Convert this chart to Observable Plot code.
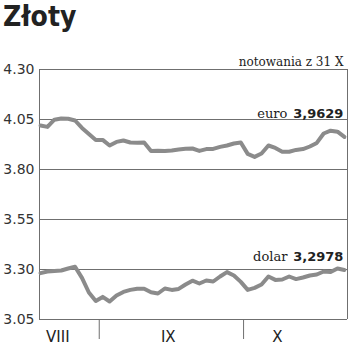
<!DOCTYPE html>
<html>
<head>
<meta charset="utf-8">
<script src="https://cdn.jsdelivr.net/npm/d3@7"></script>
<script src="https://cdn.jsdelivr.net/npm/@observablehq/plot@0.6"></script>
<style>
  html, body { margin: 0; padding: 0; background: #fff; }
  #title { height: 40px; font-family: "Liberation Sans Narrow", "DejaVu Sans Condensed", sans-serif; font-weight: bold; font-size: 28px; line-height: 33px; padding-left: 3px; color: #222; overflow: visible; }
  svg { display: block; }
</style>
</head>
<body>
<div id="title">Złoty</div>
<div id="chart"></div>
<script>
// --- data ---
const euro = [4.020, 4.013, 4.049, 4.055, 4.054, 4.045, 4.008, 3.978, 3.948,
  3.948, 3.920, 3.938, 3.945, 3.935, 3.934, 3.935, 3.892, 3.894, 3.892, 3.895, 3.900,
  3.904, 3.905, 3.893, 3.902, 3.903, 3.913, 3.920, 3.930, 3.935,
  3.878, 3.863, 3.880, 3.920, 3.908, 3.889, 3.889, 3.898, 3.902, 3.915, 3.933,
  3.980, 3.994, 3.989, 3.9629];
const dolar = [3.282, 3.290, 3.293, 3.295, 3.305, 3.314, 3.258, 3.185, 3.143,
  3.163, 3.140, 3.170, 3.188, 3.198, 3.204, 3.204, 3.186, 3.180, 3.205, 3.198, 3.203,
  3.225, 3.244, 3.230, 3.245, 3.240, 3.265, 3.287, 3.270, 3.238,
  3.198, 3.208, 3.225, 3.265, 3.248, 3.250, 3.265, 3.252, 3.260, 3.270, 3.275,
  3.290, 3.287, 3.305, 3.2978];
const yTicks = [3.05, 3.30, 3.55, 3.80, 4.05, 4.30];
const monthLabels = ["VIII", "IX", "X"];
const monthLabelAt = [2.5, 18.5, 34.3];   // trading-day index
const monthBreaks = [8.5, 29.4];          // trading-day index
const xDomain = [-0.15, 44.45];
const seriesNames = ["euro", "dolar"];
const lastValueText = ["3,9629", "3,2978"];
const subtitle = "notowania z 31 X";

const rows = [];
euro.forEach((v, i) => rows.push({series: "euro", i, v}));
dolar.forEach((v, i) => rows.push({series: "dolar", i, v}));
const last = seriesNames.map((s, k) => {
  const arr = k === 0 ? euro : dolar;
  return {series: s, i: arr.length - 1, v: arr[arr.length - 1], txt: lastValueText[k]};
});
const lastEuro = last.filter(d => d.series === "euro");
const lastDolar = last.filter(d => d.series === "dolar");

const ink = "#222";
const gridColor = "#6f6f6f";
const lineColor = "#8b8b8b";

function valueLabels(data, dy) {
  return [
    Plot.text(data, {x: "i", y: "v", text: "txt", textAnchor: "end", lineAnchor: "bottom",
      dx: -1, dy, fontWeight: "bold", fontSize: 13, fill: ink, fontFamily: "DejaVu Sans, sans-serif"}),
    Plot.text(data, {x: "i", y: "v", text: "series", textAnchor: "end", lineAnchor: "bottom",
      dx: -57, dy, fontSize: 13, fill: ink, fontFamily: "DejaVu Serif, serif"})
  ];
}

const chart = Plot.plot({
  width: 350,
  height: 311,
  marginTop: 29,
  marginBottom: 32,
  marginLeft: 39,
  marginRight: 3,
  x: {domain: xDomain},
  y: {domain: [3.05, 4.30]},
  style: {fontFamily: "DejaVu Sans, sans-serif", color: ink, background: "#fff"},
  marks: [
    Plot.gridY(yTicks, {stroke: gridColor, strokeOpacity: 1, strokeWidth: 1}),
    Plot.ruleX(xDomain, {stroke: gridColor, strokeWidth: 1}),
    Plot.axisY(yTicks, {tickSize: 0, tickPadding: 5, tickFormat: d3.format(".2f"), fontSize: 14, fill: "#333", label: null}),
    Plot.axisX(monthBreaks, {tickSize: 20, tickFormat: () => "", stroke: gridColor, label: null}),
    Plot.axisX(monthLabelAt, {tickSize: 0, tickPadding: 12, tickFormat: (d, k) => monthLabels[k], fontSize: 15, fill: "#222", label: null}),
    Plot.line(rows, {x: "i", y: "v", z: "series", stroke: lineColor, strokeWidth: 4, strokeLinejoin: "round", curve: "linear"}),
    ...valueLabels(lastEuro, -19),
    ...valueLabels(lastDolar, -9),
    Plot.text([subtitle], {frameAnchor: "top-right", textAnchor: "end", lineAnchor: "bottom",
      dx: -4, dy: -4, fontSize: 12, fill: ink, fontFamily: "DejaVu Serif, serif"})
  ]
});

document.getElementById("chart").append(chart);
</script>
</body>
</html>
